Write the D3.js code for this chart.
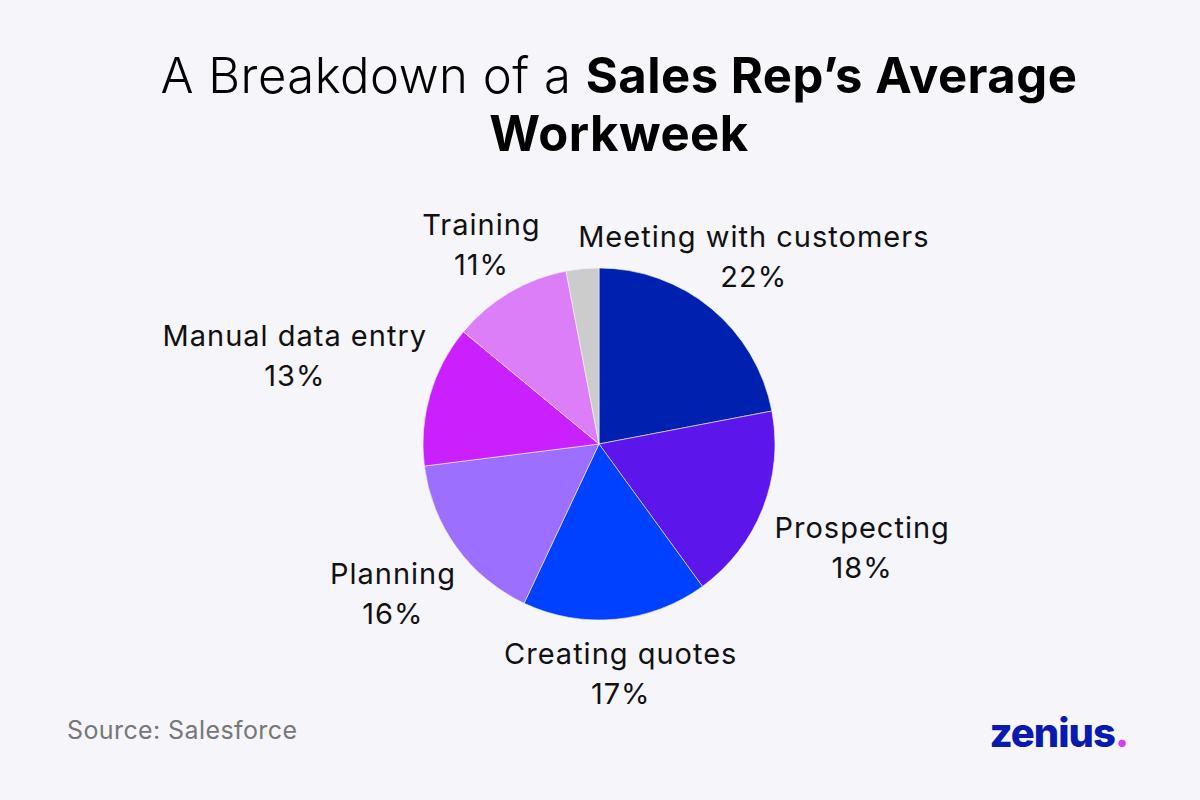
<!DOCTYPE html>
<html>
<head>
<meta charset="utf-8">
<script src="https://cdn.jsdelivr.net/npm/d3@7"></script>
<style>
  body { margin: 0; background: #f5f5fa; }
  svg { display: block; }
</style>
</head>
<body>
<svg></svg>
<script>
var width = 1200;
var height = 800;
var radius = 176;

// chart data
var categories = ['Meeting with customers', 'Prospecting', 'Creating quotes', 'Planning',
                  'Manual data entry', 'Training', 'Other'];
var shares = [22, 18, 17, 16, 13, 11, 3];
var showLabel = [true, true, true, true, true, true, false];
var colors = ['#0020b0', '#5c16eb', '#0040ff', '#9d6ffe', '#ca20fe', '#dc7ef7', '#cccccc'];

var data = categories.map(function (c, i) {
    return {name: c, value: shares[i], color: colors[i], label: showLabel[i]};
});

var svg = d3.select('svg')
  .attr('width', width)
  .attr('height', height);

svg.append('rect')
  .attr('width', width)
  .attr('height', height)
  .attr('fill', '#f5f5fa');

// title
var title = svg.append('text')
  .attr('x', 619)
  .attr('y', 93)
  .attr('text-anchor', 'middle')
  .style('font-family', 'Inter, sans-serif')
  .style('font-size', '49px')
  .style('letter-spacing', '0.5px')
  .attr('fill', '#000');
title.append('tspan').style('font-weight', 300).text('A Breakdown of a ');
title.append('tspan').style('font-weight', 700).text('Sales Rep\u2019s Average');

svg.append('text')
  .attr('x', 619)
  .attr('y', 151)
  .attr('text-anchor', 'middle')
  .style('font-family', 'Inter, sans-serif')
  .style('font-size', '49px')
  .style('letter-spacing', '0.5px')
  .style('font-weight', 700)
  .attr('fill', '#000')
  .text('Workweek');

var cx = 599, cy = 444;

var pie = d3.pie()
  .sort(null)
  .value(function (d) { return d.value; });

var arc = d3.arc()
  .innerRadius(0)
  .outerRadius(radius);

var g = svg.append('g')
  .attr('transform', 'translate(' + cx + ',' + cy + ')');

var arcs = pie(data);

g.selectAll('path.slice')
  .data(arcs)
  .enter()
  .append('path')
  .attr('class', 'slice')
  .attr('fill', function (d) { return d.data.color; })
  .attr('stroke', '#f5f5fa')
  .attr('stroke-width', 0.6)
  .attr('d', arc);

// labels, pushed outward more where text sits beside the pie
var labels = g.selectAll('g.label')
  .data(arcs.filter(function (d) { return d.data.label; }))
  .enter()
  .append('g')
  .attr('class', 'label');

labels.append('text')
  .attr('class', 'name')
  .attr('text-anchor', 'middle')
  .attr('y', -10)
  .style('font-family', 'Inter, sans-serif')
  .style('font-size', '29px')
  .style('letter-spacing', '1px')
  .attr('fill', '#111')
  .text(function (d) { return d.data.name; });

labels.append('text')
  .attr('text-anchor', 'middle')
  .attr('y', 30)
  .style('font-family', 'Inter, sans-serif')
  .style('font-size', '29px')
  .style('letter-spacing', '1px')
  .attr('fill', '#111')
  .text(function (d) { return d.data.value + '%'; });

labels.attr('transform', function (d) {
    var hw = d3.select(this).select('text.name').node().getComputedTextLength() / 2;
    var a = (d.startAngle + d.endAngle) / 2;
    var s = Math.abs(Math.sin(a));
    var r = radius + 55 + hw * Math.max(0, (s - 0.6) * 1.8);
    return 'translate(' + (r * Math.sin(a)) + ',' + (-r * Math.cos(a)) + ')';
});

// footer
svg.append('text')
  .attr('x', 67)
  .attr('y', 739)
  .style('font-family', 'Inter, sans-serif')
  .style('font-size', '25px')
  .style('letter-spacing', '0.4px')
  .attr('fill', '#777')
  .text('Source: Salesforce');

var logo = svg.append('text')
  .attr('x', 1128)
  .attr('y', 747)
  .attr('text-anchor', 'end')
  .style('font-family', 'Inter, sans-serif')
  .style('font-size', '40px')
  .style('font-weight', 800)
  .style('letter-spacing', '-1px')
  .attr('fill', '#0a1aaf');
logo.append('tspan').text('zenius');
logo.append('tspan').attr('fill', '#d63bf5').text('.');
</script>
</body>
</html>
